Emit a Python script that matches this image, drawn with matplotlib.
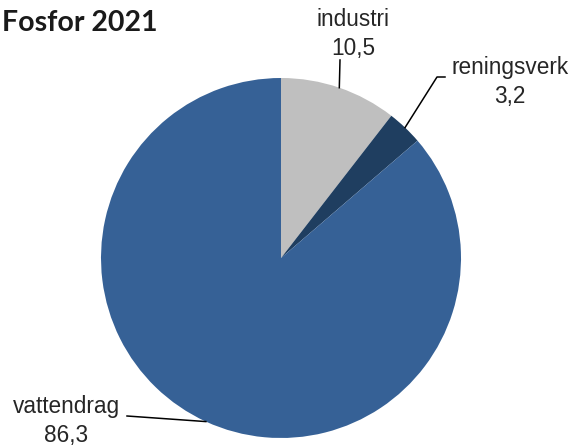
import matplotlib.pyplot as plt
import numpy as np

# Fosfor 2021, andel per källa
categories = ["industri", "reningsverk", "vattendrag"]
values = [10.5, 3.2, 86.3]
colors = ["#BFBFBF", "#1F3E60", "#366196"]

fig = plt.figure(figsize=(5.8, 4.45), dpi=100)
W, H = 580, 445
cx, cy, r = 281, 258, 180


def to_data(px, py):
    return (px - cx) / r, (cy - py) / r


ax = fig.add_axes([(cx - r) / W, (H - cy - r) / H, 2 * r / W, 2 * r / H])
ax.pie(values, colors=colors, startangle=90, counterclock=False,
       radius=1, wedgeprops=dict(linewidth=0))
ax.set_xlim(-1, 1)
ax.set_ylim(-1, 1)
ax.set_aspect("equal")
ax.axis("off")

# mid-angle of each wedge (clockwise from top)
cum = np.cumsum([0] + values[:-1])
mids = np.deg2rad(90 - (cum + np.array(values) / 2) * 3.6)
edge = [(np.cos(a), np.sin(a)) for a in mids]

# leader lines: edge point -> elbow/end point
elbows = [
    [to_data(340, 60)],
    [to_data(437, 77), to_data(445, 77)],
    [to_data(127, 416)],
]
text_pos = [to_data(353, 34), to_data(510, 82), to_data(66, 421)]

font = dict(family="Liberation Sans", size=16.3, color="#262626")
for i, name in enumerate(categories):
    pts = [edge[i]] + elbows[i]
    xs, ys = zip(*pts)
    ax.plot(xs, ys, color="black", linewidth=1.1, clip_on=False)
    label = f"{name}\n{values[i]:.1f}".replace(".", ",")
    ax.text(*text_pos[i], label, ha="center", va="center",
            linespacing=1.28, clip_on=False, **font)

fig.text(2 / W, 1 - 31 / H, "Fosfor 2021", family="Lato", weight="bold",
         size=20.5, color="#1a1a1a", ha="left", va="baseline")

fig.savefig("out.png", dpi=100)
